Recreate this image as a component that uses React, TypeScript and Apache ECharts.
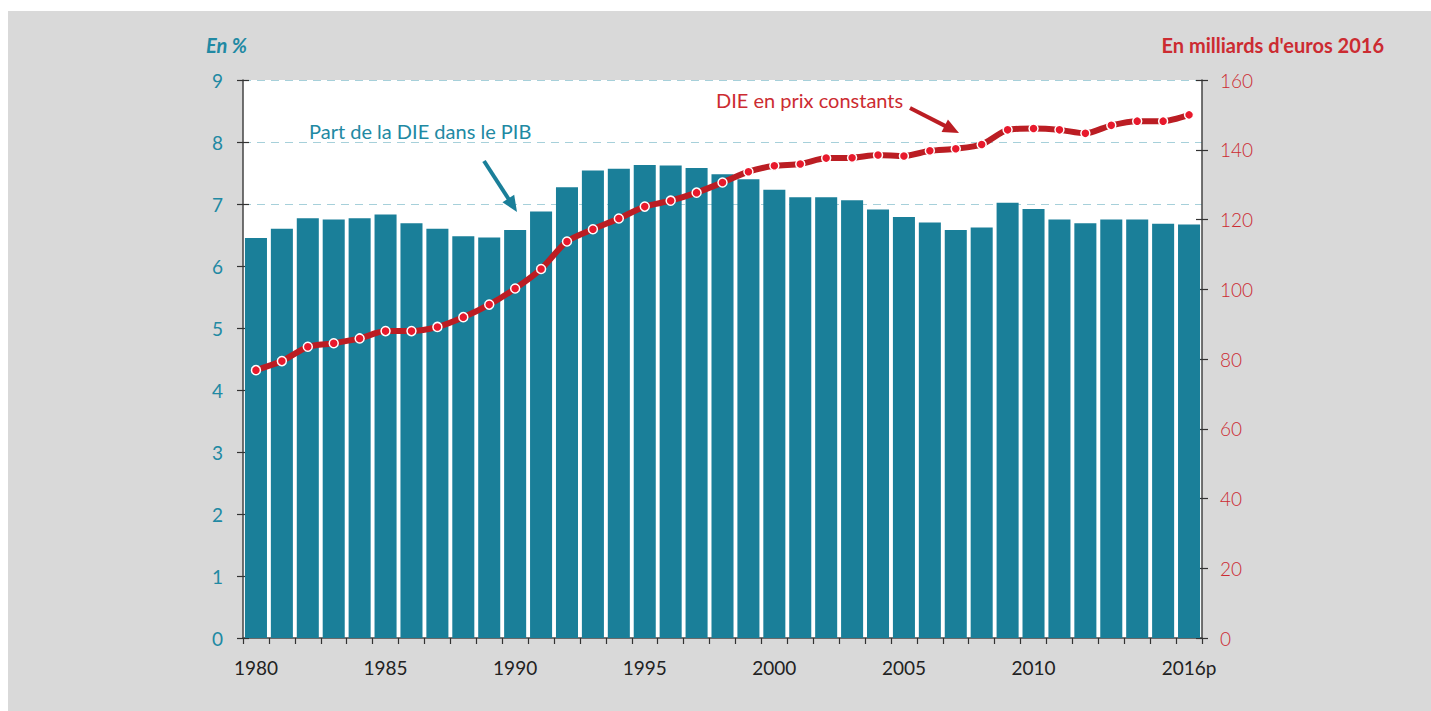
import React, { useEffect, useRef } from "react";
import * as echarts from "echarts";

const years: string[] = [
  "1980","1981","1982","1983","1984","1985","1986","1987","1988","1989",
  "1990","1991","1992","1993","1994","1995","1996","1997","1998","1999",
  "2000","2001","2002","2003","2004","2005","2006","2007","2008","2009",
  "2010","2011","2012","2013","2014","2015","2016p",
];

const partPIB: number[] = [
  6.45, 6.60, 6.77, 6.75, 6.77, 6.83, 6.69, 6.60, 6.48, 6.46,
  6.58, 6.88, 7.27, 7.54, 7.57, 7.63, 7.62, 7.58, 7.48, 7.40,
  7.23, 7.11, 7.11, 7.06, 6.91, 6.79, 6.70, 6.58, 6.62, 7.02,
  6.92, 6.75, 6.69, 6.75, 6.75, 6.68, 6.67,
];

const dieConstants: number[] = [
  76.8, 79.4, 83.5, 84.5, 85.9, 88.0, 88.0, 89.2, 92.0, 95.6,
  100.2, 105.8, 113.7, 117.2, 120.3, 123.7, 125.4, 127.7, 130.6, 133.7,
  135.4, 135.9, 137.6, 137.7, 138.5, 138.2, 139.7, 140.3, 141.5, 145.7,
  146.1, 145.7, 144.7, 147.0, 148.2, 148.2, 150.0,
];

const leftUnit = "En %";
const rightUnit = "En milliards d'euros 2016";
const barLabel = "Part de la DIE dans le PIB";
const lineLabel = "DIE en prix constants";

const TEAL = "#1a7f99";
const TEAL_TXT = "#2189a3";
const RED_LINE = "#bb1d23";
const RED_TXT = "#cc2b31";
const FONT = "Lato, 'Noto Sans', sans-serif";

function arrowHead(x0: number, y0: number, x1: number, y1: number, len: number, half: number) {
  const dx = x1 - x0;
  const dy = y1 - y0;
  const l = Math.sqrt(dx * dx + dy * dy);
  const ux = dx / l;
  const uy = dy / l;
  const bx = x1 - ux * len;
  const by = y1 - uy * len;
  const px = -uy * half;
  const py = ux * half;
  return {
    shaftEnd: [bx + ux * 2, by + uy * 2],
    points: [
      [x1, y1],
      [bx + px, by + py],
      [bx - px, by - py],
    ],
  };
}

export default function App() {
  const ref = useRef<HTMLDivElement>(null);

  useEffect(() => {
    if (!ref.current) return;
    const chart = echarts.init(ref.current, undefined, { renderer: "svg" });

    const tealArrow = arrowHead(484, 161, 517, 212, 16, 7);
    const redArrow = arrowHead(910, 108, 959, 133, 16, 7);

    const splitColors = [
      "rgba(0,0,0,0)", "rgba(0,0,0,0)", "rgba(0,0,0,0)", "rgba(0,0,0,0)",
      "rgba(0,0,0,0)", "rgba(0,0,0,0)", "rgba(0,0,0,0)",
      "#a6d0da", "#a6d0da", "#a6d0da",
    ];

    const option: echarts.EChartsOption = {
      animation: false,
      backgroundColor: "#ffffff",
      textStyle: { fontFamily: FONT },
      grid: {
        left: 243,
        top: 80,
        width: 959,
        height: 558,
        show: true,
        backgroundColor: "#ffffff",
        borderWidth: 0,
        containLabel: false,
      },
      xAxis: [
        {
          type: "category",
          data: years,
          boundaryGap: true,
          axisLine: { show: true, lineStyle: { color: "#444", width: 1.5 } },
          axisTick: {
            show: true,
            interval: 0,
            length: 6,
            inside: false,
            lineStyle: { color: "#333", width: 1.2 },
          },
          axisLabel: {
            interval: (i: number) => (i % 5 === 0 && i < 35) || i === 36,
            color: "#222",
            fontSize: 19,
            margin: 20,
            fontFamily: FONT,
          },
          splitLine: { show: false },
        },
      ],
      yAxis: [
        {
          type: "value",
          position: "left",
          min: 0,
          max: 9,
          interval: 1,
          axisLine: { show: true, lineStyle: { color: "#444", width: 1.5 } },
          axisTick: { show: true, length: 6, lineStyle: { color: "#333", width: 1.2 } },
          axisLabel: { color: TEAL_TXT, fontSize: 19, margin: 20, fontFamily: FONT },
          splitLine: {
            show: true,
            lineStyle: { color: splitColors, type: [8, 6], width: 1.2 },
          },
        },
        {
          type: "value",
          position: "right",
          min: 0,
          max: 160,
          interval: 20,
          axisLine: { show: true, lineStyle: { color: "#444", width: 1.5 } },
          axisTick: { show: true, length: 6, lineStyle: { color: "#333", width: 1.2 } },
          axisLabel: { color: RED_TXT, fontSize: 19, margin: 18, fontFamily: FONT, fontWeight: 300 },
          splitLine: { show: false },
        },
        {
          type: "value",
          position: "left",
          min: 0,
          max: 9,
          interval: 1,
          axisLine: { show: false },
          axisTick: { show: true, inside: true, length: 6, lineStyle: { color: "#333", width: 1.2 } },
          axisLabel: { show: false },
          splitLine: { show: false },
        },
        {
          type: "value",
          position: "right",
          min: 0,
          max: 160,
          interval: 20,
          axisLine: { show: false },
          axisTick: { show: true, inside: true, length: 6, lineStyle: { color: "#333", width: 1.2 } },
          axisLabel: { show: false },
          splitLine: { show: false },
        },
      ],
      series: [
        {
          name: barLabel,
          type: "bar",
          data: partPIB,
          xAxisIndex: 0,
          yAxisIndex: 0,
          barCategoryGap: "15%",
          itemStyle: { color: TEAL },
          z: 2,
        },
        {
          name: lineLabel,
          type: "line",
          data: dieConstants,
          xAxisIndex: 0,
          yAxisIndex: 1,
          smooth: 0.25,
          lineStyle: { color: RED_LINE, width: 6 },
          symbol: "circle",
          symbolSize: 9,
          showAllSymbol: true,
          itemStyle: { color: "#e8192c", borderColor: "#ffffff", borderWidth: 1.5 },
          z: 5,
        },
      ],
      graphic: [
        {
          type: "rect",
          shape: { x: 8, y: 11, width: 1423, height: 700 },
          style: { fill: "#d9d9d9" },
          z: -10,
          silent: true,
        },
        {
          type: "text",
          x: 206,
          y: 45,
          style: {
            text: leftUnit,
            fill: TEAL_TXT,
            font: `italic bold 20px ${FONT}`,
            textAlign: "left",
            textVerticalAlign: "middle",
          },
        },
        {
          type: "text",
          x: 1384,
          y: 45,
          style: {
            text: rightUnit,
            fill: RED_TXT,
            font: `bold 20px ${FONT}`,
            textAlign: "right",
            textVerticalAlign: "middle",
          },
        },
        {
          type: "text",
          x: 309,
          y: 131,
          z: 10,
          style: {
            text: barLabel,
            fill: TEAL_TXT,
            font: `20px ${FONT}`,
            textAlign: "left",
            textVerticalAlign: "middle",
          },
        },
        {
          type: "text",
          x: 716,
          y: 100,
          z: 10,
          style: {
            text: lineLabel,
            fill: RED_TXT,
            font: `20px ${FONT}`,
            textAlign: "left",
            textVerticalAlign: "middle",
          },
        },
        {
          type: "line",
          z: 10,
          shape: { x1: 484, y1: 161, x2: tealArrow.shaftEnd[0], y2: tealArrow.shaftEnd[1] },
          style: { stroke: TEAL, lineWidth: 4 },
        },
        {
          type: "polygon",
          z: 10,
          shape: { points: tealArrow.points },
          style: { fill: TEAL },
        },
        {
          type: "line",
          z: 10,
          shape: { x1: 910, y1: 108, x2: redArrow.shaftEnd[0], y2: redArrow.shaftEnd[1] },
          style: { stroke: RED_LINE, lineWidth: 4 },
        },
        {
          type: "polygon",
          z: 10,
          shape: { points: redArrow.points },
          style: { fill: RED_LINE },
        },
      ],
    };

    chart.setOption(option);
    return () => {
      chart.dispose();
    };
  }, []);

  return (
    <div
      ref={ref}
      style={{ position: "fixed", left: 0, top: 0, width: 1431, height: 711 }}
    />
  );
}
